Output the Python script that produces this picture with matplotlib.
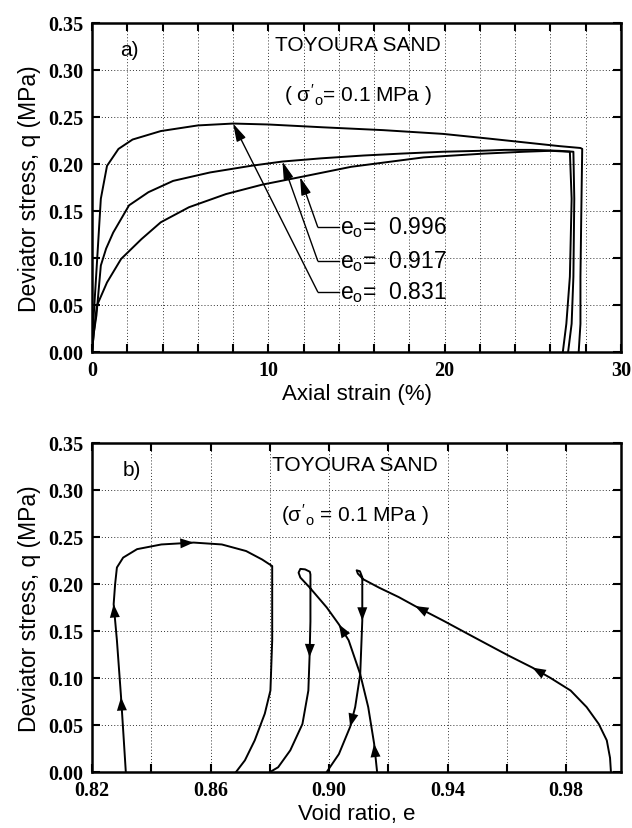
import numpy as np
import matplotlib.pyplot as plt

# ---------------- data: panel a (axial strain % vs q MPa) ----------------
strain_831 = [0, 0.1, 0.27, 0.5, 0.85, 1.5, 2.3, 3.9, 6.0, 8.0, 10.0, 13.1, 16.5,
              19.9, 22.5, 24.5, 26.5, 27.7, 27.8, 27.75, 27.7, 27.7, 27.6]
q_831 = [0, 0.04, 0.092, 0.163, 0.198, 0.216, 0.226, 0.235, 0.241, 0.243, 0.242,
         0.239, 0.236, 0.232, 0.227, 0.223, 0.219, 0.217, 0.216, 0.15, 0.08, 0.03, 0.0]

strain_917 = [0, 0.1, 0.25, 0.5, 0.8, 1.2, 2.1, 3.2, 4.6, 6.7, 9.0, 10.8, 13.0,
              15.4, 17.5, 19.9, 22.0, 23.4, 25.0, 26.5, 27.3, 27.35, 27.3, 27.2, 27.0]
q_917 = [0, 0.02, 0.039, 0.092, 0.11, 0.127, 0.156, 0.170, 0.182, 0.191, 0.198,
         0.2026, 0.206, 0.209, 0.211, 0.213, 0.214, 0.215, 0.215, 0.214, 0.213,
         0.163, 0.08, 0.03, 0.0]

strain_996 = [0, 0.1, 0.27, 0.85, 1.65, 2.8, 3.9, 5.5, 7.6, 9.65, 11.8, 14.7,
              18.8, 22.2, 24.5, 26.0, 27.1, 27.2, 27.1, 26.9, 26.7]
q_996 = [0, 0.02, 0.049, 0.074, 0.099, 0.120, 0.138, 0.154, 0.168, 0.178, 0.186,
         0.197, 0.207, 0.211, 0.213, 0.214, 0.213, 0.163, 0.08, 0.03, 0.0]

e0_labels = ["0.996", "0.917", "0.831"]

# ---------------- data: panel b (void ratio vs q MPa) ----------------
e_831 = [0.8314, 0.8306, 0.8298, 0.8284, 0.8273, 0.8278, 0.8284, 0.8305, 0.8352,
         0.8434, 0.8543, 0.8638, 0.872, 0.8774, 0.8808, 0.8808, 0.8802, 0.8783,
         0.8749, 0.8716, 0.8686]
qb_831 = [0.0, 0.04, 0.0795, 0.14, 0.1785, 0.2, 0.2175, 0.228, 0.237, 0.242, 0.244,
          0.242, 0.235, 0.226, 0.219, 0.14, 0.0866, 0.062, 0.0336, 0.0124, 0.0]

e_917 = [0.9162, 0.9152, 0.9132, 0.9105, 0.9066, 0.9033, 0.8992, 0.8935, 0.8903,
         0.8897, 0.8903, 0.8919, 0.8935, 0.8937, 0.8937, 0.8934, 0.8930, 0.8910,
         0.8869, 0.8828, 0.8801]
qb_917 = [0.0, 0.03, 0.069, 0.104, 0.14, 0.157, 0.175, 0.196, 0.2068, 0.212, 0.216,
          0.2155, 0.213, 0.21, 0.16, 0.122, 0.0866, 0.051, 0.023, 0.005, 0.0]

e_996 = [0.9951, 0.9948, 0.9937, 0.9910, 0.9869, 0.9815, 0.9747, 0.9686, 0.9604,
         0.9494, 0.9385, 0.9290, 0.9235, 0.9169, 0.9115, 0.9097, 0.9093, 0.9104,
         0.9112, 0.9112, 0.9105, 0.9088, 0.9071, 0.9033, 0.8992]
qb_996 = [0.0, 0.015, 0.0336, 0.051, 0.069, 0.0866, 0.100, 0.111, 0.124, 0.1425,
          0.161, 0.1765, 0.186, 0.196, 0.205, 0.211, 0.2145, 0.2135, 0.207, 0.161,
          0.104, 0.069, 0.048, 0.019, 0.0]

# arrow positions (index of point the arrow head sits on)
arrows_831 = [2, 4, 10]
arrows_917 = [1, 5, 15]
arrows_996 = [7, 11, 19, 22]

plt.rcParams['font.family'] = ['Liberation Sans', 'DejaVu Sans']
plt.rcParams['mathtext.fontset'] = 'custom'
plt.rcParams['mathtext.rm'] = 'Liberation Sans'
plt.rcParams['mathtext.it'] = 'Liberation Sans'

fig = plt.figure(figsize=(6.32, 8.29), dpi=100)
ax1 = fig.add_axes([0.1456, 0.5742, 0.837, 0.3969])
ax2 = fig.add_axes([0.1456, 0.0676, 0.837, 0.3969])

lw = 1.4
tick_font = dict(family='Liberation Serif', fontweight='bold', fontsize=14.5)


def style_axes(ax):
    for s in ax.spines.values():
        s.set_linewidth(1.8)
    ax.tick_params(which='both', direction='in', top=True, right=True,
                   length=6, width=1.5, pad=6)
    ax.grid(True, which='both', linestyle=(0, (1, 2.2)), color='0.2', linewidth=0.7)
    ax.set_yticks(np.arange(0, 0.351, 0.05))
    ax.set_yticklabels([f"{v:.2f}" for v in np.arange(0, 0.351, 0.05)], **tick_font)
    ax.set_ylim(0, 0.35)
    ax.set_ylabel("Deviator stress, q (MPa)", fontsize=16.5, labelpad=5)


def arrow_on(ax, xs, ys, idx):
    for i in idx:
        ax.annotate('', xy=(xs[i], ys[i]), xytext=(xs[i - 1], ys[i - 1]),
                    arrowprops=dict(arrowstyle='-|>,head_length=0.8,head_width=0.3',
                                    mutation_scale=12, color='black', lw=0,
                                    shrinkA=0, shrinkB=0))


# ---------------- panel a ----------------
for sx, sq in [(strain_831, q_831), (strain_917, q_917), (strain_996, q_996)]:
    ax1.plot(sx, sq, color='black', lw=lw)
style_axes(ax1)
ax1.set_xlim(0, 30)
ax1.set_xticks([0, 10, 20, 30])
ax1.set_xticks(np.arange(0, 30, 2), minor=True)
ax1.set_xticklabels(["0", "10", "20", "30"], **tick_font)
ax1.set_xlabel("Axial strain (%)", fontsize=16, labelpad=2)

ax1.text(2.1, 0.322, "a)", fontsize=15, ha='center', va='center')
ax1.text(15.1, 0.327, "TOYOURA SAND", fontsize=15, ha='center', va='center')
ax1.text(15.1, 0.274, r"( $\sigma'_{\mathrm{o}}$= 0.1 MPa )", fontsize=15,
         ha='center', va='center')

# leaders from labels to curves
tips = [(strain_996[10], q_996[10]), (strain_917[11], q_917[11]),
        (strain_831[9], q_831[9])]
label_q = [0.133, 0.097, 0.064]
for lab, (tx, ty), lq in zip(e0_labels, tips, label_q):
    ax1.plot([14.0, 12.8], [lq, lq], color='black', lw=1.0)
    ax1.annotate('', xy=(tx, ty), xytext=(12.8, lq),
                 arrowprops=dict(arrowstyle='-|>,head_length=0.9,head_width=0.25',
                                 mutation_scale=12, color='black', lw=1.0,
                                 shrinkA=0, shrinkB=0))
    ax1.text(14.05, lq, r"$\mathrm{e_o}$=  " + lab, fontsize=16.5, va='center', ha='left')

# ---------------- panel b ----------------
for ex, eq, ai in [(e_831, qb_831, arrows_831), (e_917, qb_917, arrows_917),
                   (e_996, qb_996, arrows_996)]:
    ax2.plot(ex, eq, color='black', lw=lw)
    arrow_on(ax2, ex, eq, ai)
style_axes(ax2)
ax2.set_xlim(0.82, 0.9985)
ax2.set_xticks([0.82, 0.86, 0.90, 0.94, 0.98])
ax2.set_xticks(np.arange(0.84, 0.99, 0.04), minor=True)
ax2.set_xticklabels(["0.82", "0.86", "0.90", "0.94", "0.98"], **tick_font)
ax2.set_xlabel("Void ratio, e", fontsize=16, labelpad=2)

ax2.text(0.8335, 0.322, "b)", fontsize=15, ha='center', va='center')
ax2.text(0.9088, 0.327, "TOYOURA SAND", fontsize=15, ha='center', va='center')
ax2.text(0.9088, 0.274, r"($\sigma'_{\mathrm{o}}$ = 0.1 MPa )", fontsize=15,
         ha='center', va='center')

fig.savefig("out.png", dpi=100)
